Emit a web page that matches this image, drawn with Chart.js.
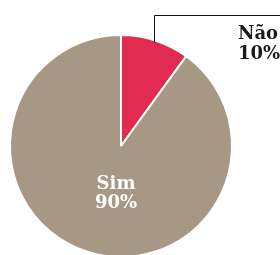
<!DOCTYPE html>
<html>
<head>
<meta charset="utf-8">
<script src="https://cdn.jsdelivr.net/npm/chart.js@4"></script>
<style>
  html, body { margin: 0; padding: 0; background: #fff; overflow: hidden; }
  canvas { display: block; }
</style>
</head>
<body>
<canvas id="pieChart" width="280" height="270"></canvas>
<script>
const labels = ["Não", "Sim"];
const values = [10, 90];
const valueLabels = ["10%", "90%"];
const colors = ["#e12b50", "#a69885"];

const labelFont = "bold 18px 'DejaVu Serif', serif";

// labels + leader line drawn on top of the pie
const labelPlugin = {
    id: "pieLabels",
    afterDraw(chart) {
        const ctx = chart.ctx;
        const arcs = chart.getDatasetMeta(0).data;
        const cx = arcs[0].x;
        const cy = arcs[0].y;
        const r = arcs[0].outerRadius;

        ctx.save();
        ctx.font = labelFont;

        // Não: leader line from the slice edge up and to the right
        const lineX = cx + 33;
        const dy = Math.sqrt(r * r - 33 * 33);
        ctx.strokeStyle = "#111";
        ctx.lineWidth = 1;
        ctx.beginPath();
        ctx.moveTo(lineX + 0.5, cy - dy + 2);
        ctx.lineTo(lineX + 0.5, 15.5);
        ctx.lineTo(280, 15.5);
        ctx.stroke();

        ctx.fillStyle = "#1a1a1a";
        ctx.textAlign = "left";
        ctx.textBaseline = "alphabetic";
        ctx.fillText(labels[0], 238, 39);
        ctx.fillText(valueLabels[0], 238, 59);

        // Sim: inside the big slice
        ctx.fillStyle = "#ffffff";
        ctx.textAlign = "center";
        ctx.fillText(labels[1], cx - 5, cy + 43);
        ctx.fillText(valueLabels[1], cx - 5, cy + 62);
        ctx.restore();
    }
};

function draw() {
    const ctx = document.getElementById("pieChart").getContext("2d");
    new Chart(ctx, {
        type: "pie",
        data: {
            labels,
            datasets: [{
                data: values,
                backgroundColor: colors,
                borderColor: "#ffffff",
                borderWidth: 2
            }]
        },
        options: {
            responsive: false,
            animation: false,
            layout: { padding: { left: 9, right: 47, top: 34, bottom: 12 } },
            plugins: {
                legend: { display: false },
                tooltip: { enabled: false }
            }
        },
        plugins: [labelPlugin]
    });
}

document.fonts.load(labelFont).then(draw, draw);
</script>
</body>
</html>
